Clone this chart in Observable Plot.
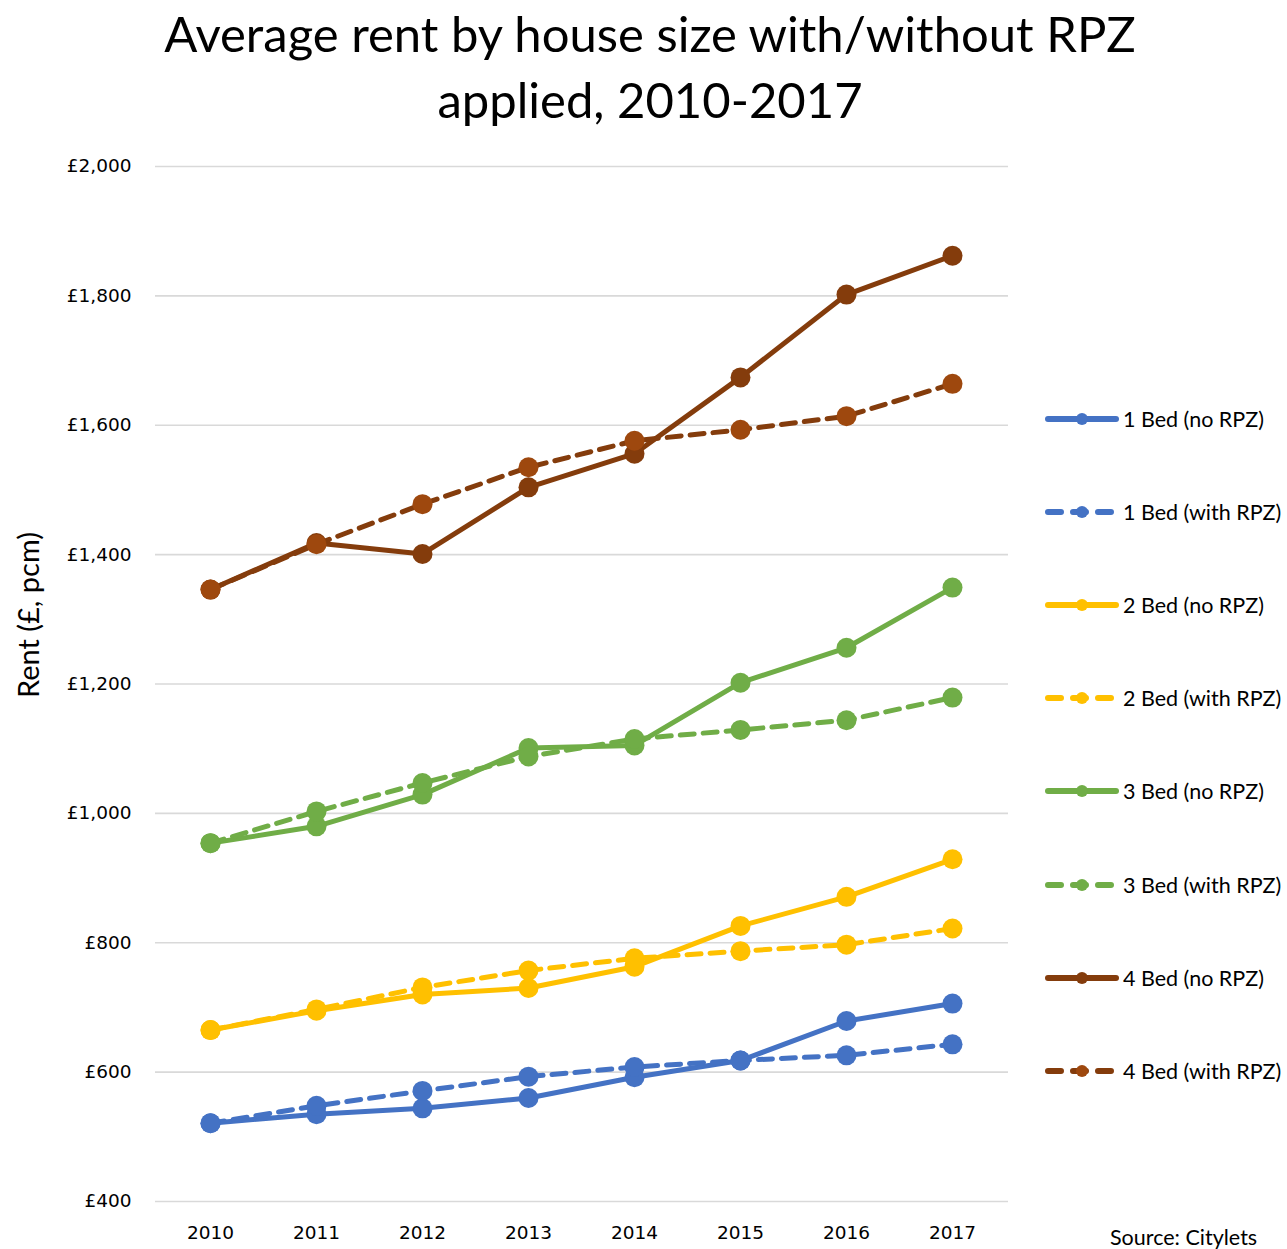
<!DOCTYPE html>
<html>
<head>
<meta charset="utf-8">
<script src="https://cdn.jsdelivr.net/npm/d3@7"></script>
<script src="https://cdn.jsdelivr.net/npm/@observablehq/plot@0.6"></script>
<style>
  html, body { margin: 0; padding: 0; background: #fff; }
  #wrap { position: relative; width: 1287px; height: 1249px; overflow: hidden; background: #fff; }
  #title { position: absolute; left: 0; top: 0; width: 1300px; height: 140px; text-align: center;
           font-family: Lato, "Open Sans", sans-serif; font-size: 49px; line-height: 66px; color: #000; padding-top: 0px; box-sizing: border-box; }
  #chart { position: absolute; left: 0; top: 140px; }
  #legend { position: absolute; left: 1043px; top: 0; }
  .item { position: absolute; left: 0; white-space: nowrap; display: flex; align-items: center;
          font-family: Lato, "Open Sans", sans-serif; font-size: 21.5px; color: #000; }
  .item svg { margin-right: 2px; }
  #source { position: absolute; left: 1110px; top: 1224px; font-family: Lato, "Open Sans", sans-serif; font-size: 21.5px; color: #000; }
  #ylabel { position: absolute; left: 27px; top: 615px; transform: translate(-50%, -50%) rotate(-90deg);
            font-family: Lato, "Open Sans", sans-serif; font-size: 29px; white-space: nowrap; color: #000; }
</style>
</head>
<body>
<div id="wrap">
  <div id="title">Average rent by house size with/without RPZ<br>applied, 2010-2017</div>
  <div id="chart"></div>
  <div id="ylabel">Rent (£, pcm)</div>
  <div id="legend"></div>
  <div id="source">Source: Citylets</div>
</div>
<script>
const years = [2010, 2011, 2012, 2013, 2014, 2015, 2016, 2017];
const yTicks = [400, 600, 800, 1000, 1200, 1400, 1600, 1800, 2000];

const bed1NoRpz   = [521, 535, 544, 560, 592, 618, 679, 706];
const bed1WithRpz = [521, 548, 571, 593, 608, 618, 626, 643];
const bed2NoRpz   = [665, 695, 720, 730, 763, 826, 871, 929];
const bed2WithRpz = [665, 697, 731, 757, 776, 787, 797, 822];
const bed3NoRpz   = [954, 980, 1029, 1101, 1105, 1202, 1256, 1349];
const bed3WithRpz = [954, 1003, 1047, 1088, 1115, 1129, 1144, 1179];
const bed4NoRpz   = [1346, 1418, 1401, 1504, 1556, 1674, 1802, 1862];
const bed4WithRpz = [1346, 1416, 1478, 1535, 1576, 1593, 1614, 1664];

const seriesNames = ["1 Bed (no RPZ)", "1 Bed (with RPZ)", "2 Bed (no RPZ)", "2 Bed (with RPZ)",
                     "3 Bed (no RPZ)", "3 Bed (with RPZ)", "4 Bed (no RPZ)", "4 Bed (with RPZ)"];
const seriesValues = [bed1NoRpz, bed1WithRpz, bed2NoRpz, bed2WithRpz, bed3NoRpz, bed3WithRpz, bed4NoRpz, bed4WithRpz];
const lineColors = ["#4472C4", "#4472C4", "#FFC000", "#FFC000", "#70AD47", "#70AD47", "#843C0C", "#843C0C"];
const dotColors  = ["#4472C4", "#4472C4", "#FFC000", "#FFC000", "#70AD47", "#70AD47", "#843C0C", "#9E480E"];
const dashed     = [false, true, false, true, false, true, false, true];

const series = seriesNames.map((name, i) => ({
  name, line: lineColors[i], dot: dotColors[i], dashed: dashed[i],
  rows: years.map((year, j) => ({ year, rent: seriesValues[i][j] }))
}));

const fmt = d => "£" + d3.format(",")(d);

const marks = [
  Plot.gridY(yTicks, { stroke: "#d9d9d9", strokeOpacity: 1, strokeWidth: 1.6 }),
  Plot.axisY(yTicks, { tickSize: 0, tickPadding: 24, tickFormat: fmt, fontSize: 18.5, fontFamily: "DejaVu Sans", fill: "#000", label: null }),
  Plot.axisX(years, { tickSize: 0, tickPadding: 24, tickFormat: d => String(d), fontSize: 18.5, fontFamily: "DejaVu Sans", fill: "#000", label: null })
];
for (const s of series) {
  marks.push(Plot.line(s.rows, { x: "year", y: "rent", stroke: s.line, strokeWidth: 5,
    strokeDasharray: s.dashed ? "14,9" : null, strokeLinecap: s.dashed ? "round" : "butt", strokeLinejoin: "round" }));
  marks.push(Plot.dot(s.rows, { x: "year", y: "rent", r: 10, fill: s.dot, stroke: "none" }));
}

const chart = Plot.plot({
  width: 1287, height: 1109,
  marginLeft: 155, marginRight: 279, marginTop: 26, marginBottom: 48,
  x: { type: "point", domain: years, range: [207, 955], padding: 0 },
  y: { domain: [400, 2000] },
  style: { background: "transparent", overflow: "visible", fontFamily: "DejaVu Sans", fontSize: "18px" },
  marks
});
document.getElementById("chart").appendChild(chart);

// legend
const legend = document.getElementById("legend");
const legendTop = 418, legendStep = 93.1;
series.forEach((s, i) => {
  const div = document.createElement("div");
  div.className = "item";
  div.style.top = (legendTop + i * legendStep - 12) + "px";
  const svg = d3.create("svg").attr("width", 78).attr("height", 24);
  svg.append("line").attr("x1", 5).attr("x2", 73).attr("y1", 12).attr("y2", 12)
    .attr("stroke", s.line).attr("stroke-width", 6).attr("stroke-linecap", "round")
    .attr("stroke-dasharray", s.dashed ? "13,12" : null);
  svg.append("circle").attr("cx", 39).attr("cy", 12).attr("r", 6).attr("fill", s.dot);
  div.appendChild(svg.node());
  const span = document.createElement("span");
  span.textContent = s.name;
  div.appendChild(span);
  legend.appendChild(div);
});
</script>
</body>
</html>
